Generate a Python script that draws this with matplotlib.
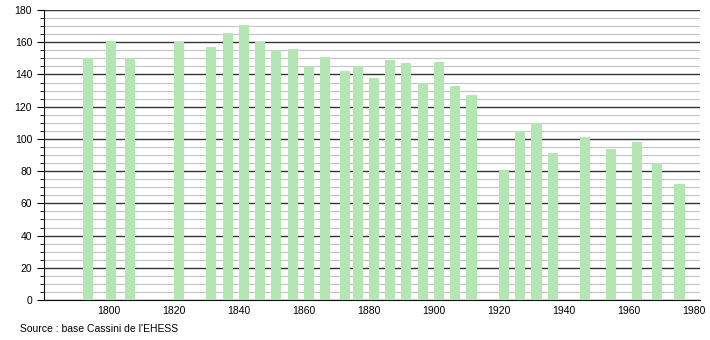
import matplotlib
matplotlib.use("Agg")
import matplotlib.pyplot as plt
from matplotlib.ticker import MultipleLocator

years = [1793, 1800, 1806, 1821, 1831, 1836, 1841, 1846, 1851, 1856, 1861, 1866,
         1872, 1876, 1881, 1886, 1891, 1896, 1901, 1906, 1911, 1921, 1926, 1931,
         1936, 1946, 1954, 1962, 1968, 1975]
population = [150, 161, 150, 160, 157, 166, 171, 160, 155, 156, 145, 151,
              142, 145, 138, 149, 147, 135, 148, 133, 127, 81, 105, 110,
              91, 101, 94, 98, 85, 72]
x_ticks = [1800, 1820, 1840, 1860, 1880, 1900, 1920, 1940, 1960, 1980]
source_text = "Source : base Cassini de l'EHESS"

plt.rcParams['font.family'] = ['Liberation Sans', 'DejaVu Sans']
fig = plt.figure(figsize=(7.1, 3.4), dpi=100)
ax = fig.add_axes([44/710, 40/340, (700-44)/710, 290/340])
ax.set_axisbelow(True)

bar_x = [y + 0.5 for y in years]
ax.bar(bar_x, population, width=3.1, color='#b3e6b3', zorder=3)

ax.set_xlim(1780, 1981.8)
ax.set_ylim(0, 180)
ax.set_xticks(x_ticks)
ax.yaxis.set_major_locator(MultipleLocator(20))
ax.yaxis.set_minor_locator(MultipleLocator(5))
ax.grid(axis='y', which='major', color='#333333', linewidth=1.0)
ax.grid(axis='y', which='minor', color='#c4c4c4', linewidth=0.8)
for s in ['top', 'right']:
    ax.spines[s].set_visible(False)
ax.spines['left'].set_color('#111111')
ax.spines['bottom'].set_color('#111111')
ax.tick_params(axis='y', which='major', length=5, labelsize=7.5, direction='out')
ax.tick_params(axis='y', which='minor', length=3, direction='out')
ax.tick_params(axis='x', which='major', length=0, labelsize=7.5, pad=4)

fig.text(20/710, 1 - 329/340, source_text, fontsize=7.5, va='center', ha='left')

fig.savefig("out.png", dpi=100)
